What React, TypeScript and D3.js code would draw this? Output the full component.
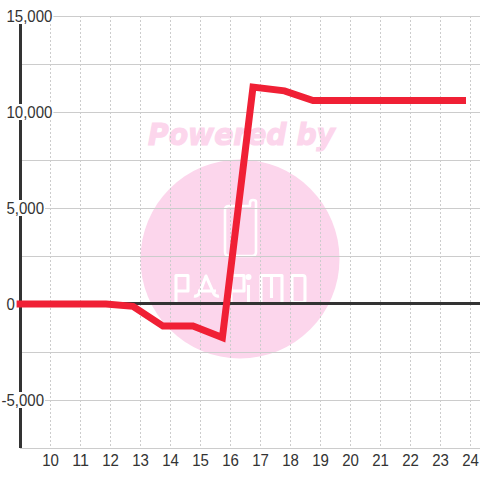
import React from "react";
import * as d3 from "d3";

const hours = [8.87, 9.85, 10.85, 11.85, 12.75, 13.75, 14.75, 15.73, 16.75, 17.8, 18.75, 19.85, 20.85, 21.85, 22.85, 23.85];
const values = [0, 0, 0, 0, -120, -1150, -1150, -1750, 11300, 11100, 10600, 10600, 10600, 10600, 10600, 10600];
const xTicks = [10, 11, 12, 13, 14, 15, 16, 17, 18, 19, 20, 21, 22, 23, 24];
const yLabelled = [15000, 10000, 5000, 0, -5000];
const yGrid = [15000, 12500, 10000, 7500, 5000, 2500, 0, -2500, -5000, -7500];

const FS = 15;
const FONT = "'Liberation Sans', Arial, sans-serif";
const x = d3.scaleLinear().domain([9, 24]).range([20.5, 470.5]);
const y = d3.scaleLinear().domain([15000, -7500]).range([16, 448]);
const fmt = d3.format(",");
const line = d3.line<number>().x((_, i) => x(hours[i])).y((v) => y(v)).curve(d3.curveLinear);

function labelBox(v: number) {
  const s = fmt(v).replace("−", "-");
  const digits = s.replace(/[^0-9]/g, "").length;
  const commas = s.replace(/[^,]/g, "").length;
  const minus = v < 0 ? 0.333 * FS : 0;
  const width = FS * (0.556 * digits + 0.278 * commas) + minus;
  return { s, width, left: 6.5 - minus };
}

const PINK = "#fcd6ec";

function Watermark() {
  return (
    <g>
      <circle cx={240} cy={259} r={99.5} fill={PINK} />
      <text x={148} y={145} fontFamily="'DejaVu Sans'" fontWeight="bold" fontStyle="italic" fontSize={30} fill={PINK} stroke={PINK} strokeWidth={1.2} textLength={187} lengthAdjust="spacingAndGlyphs">
        Powered by
      </text>
      <g fill="none" stroke="#fff" strokeWidth={2.6} strokeLinejoin="round" strokeLinecap="round">
        <path d="M250 206 H229 Q225 206 225 210 V252 Q225 256 229 256 H252 Q256 256 256 252 V202 Q256 200 253 200 Q250 200 250 203 V206" />
      </g>
      <g fill="none" stroke="#fff" strokeWidth={3.1} strokeLinejoin="round" strokeLinecap="butt">
        <path d="M176 303 V275.5 H188 V291 H176" />
        <path d="M194 296 Q198 297 200 292 L206 276 L213 292 Q215 297 219 296 M198 291 H216" />
        <path d="M231 303 V275.5 H244 V291 H231" />
        <path d="M248.5 285 V303" />
        <path d="M261 303 V275.5 H282 V303 M271.5 276 V298" />
        <path d="M292 275.5 H303 Q305 275.5 305 278 V300 Q305 302.5 303 302.5 H294 Q292 302.5 292 300 Z" />
      </g>
      <circle cx={248.5} cy={277} r={3} fill="#fff" />
    </g>
  );
}

export default function App() {
  return (
    <svg width={480} height={480} style={{ position: "fixed", left: 0, top: 0, background: "#fff" }}>
      <Watermark />
      {yGrid.map((v) => (
        <line key={v} x1={20} x2={480} y1={y(v)} y2={y(v)} stroke="#ccc" strokeWidth={1} shapeRendering="crispEdges" />
      ))}
      {xTicks.map((t) => (
        <line key={t} x1={x(t)} x2={x(t)} y1={16} y2={448} stroke="#ccc" strokeWidth={1} strokeDasharray="2 2" shapeRendering="crispEdges" />
      ))}
      <line x1={20.5} x2={20.5} y1={16} y2={448} stroke="#333" strokeWidth={3} shapeRendering="crispEdges" />
      <line x1={20} x2={480} y1={y(0) - 0.5} y2={y(0) - 0.5} stroke="#333" strokeWidth={3} shapeRendering="crispEdges" />
      {yLabelled.map((v) => {
        const b = labelBox(v);
        return (
          <g key={v}>
            <rect x={b.left - 1} y={y(v) - 8} width={b.width + 2} height={16} fill="#fff" />
            <text x={b.left} y={y(v) + 5.5} fontFamily={FONT} fontSize={16} fill="#333" textLength={b.width} lengthAdjust="spacingAndGlyphs">{b.s}</text>
          </g>
        );
      })}
      {xTicks.map((t) => (
        <text key={t} x={x(t)} y={465.5} textAnchor="middle" fontFamily={FONT} fontSize={16} fill="#333" textLength={FS * 0.556 * String(t).length} lengthAdjust="spacingAndGlyphs">{t}</text>
      ))}
      <path d={line(values) ?? ""} fill="none" stroke="#f02035" strokeWidth={7} strokeLinejoin="miter" />
    </svg>
  );
}
